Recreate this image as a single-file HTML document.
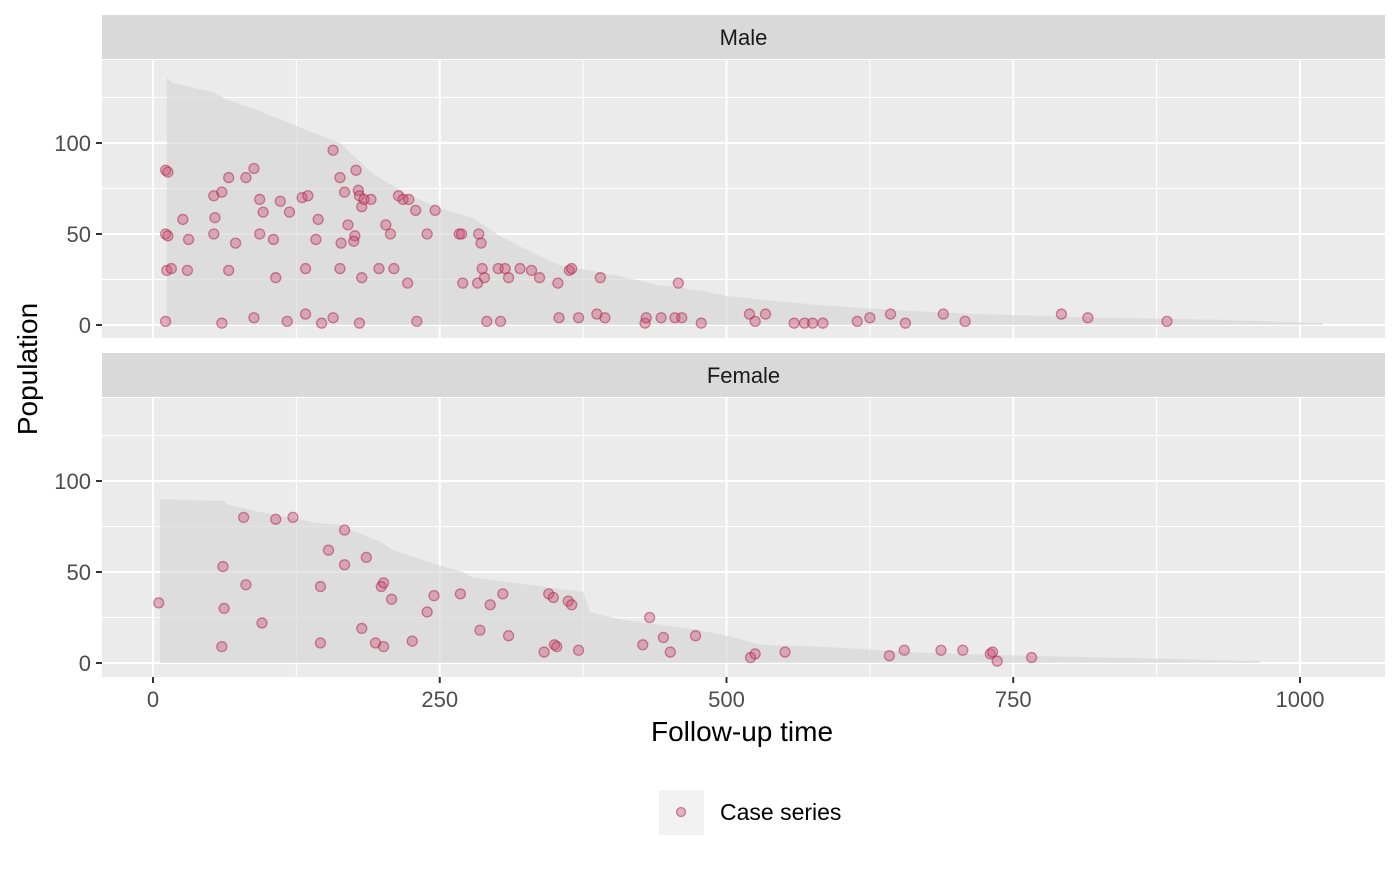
<!DOCTYPE html>
<html><head><meta charset="utf-8">
<style>
body{margin:0;background:#fff;}
svg text{font-family:"Liberation Sans",Arial,sans-serif;}
</style></head>
<body>
<svg id="chart" width="1400" height="865" xmlns="http://www.w3.org/2000/svg"></svg>
<script>
// ---- data ----
const xTicks = [0, 250, 500, 750, 1000];
const yTicks = [0, 50, 100];
const panelNames = ["Male", "Female"];
const maleAreaTimes = [12,17,52,64,91,122,163,192,221,250,279,302,330,354,380,406,440,476,500,529,580,651,720,825,920,1020];
const maleAreaPops  = [136,133,128,124,118,110,100,83,72,64,59,49,40,33,30,27,22,19,16,14,11,8,6,4,3,1];
const femaleAreaTimes = [6,61,65,93,143,163,174,200,209,248,270,279,375,381,407,477,500,530,580,610,660,700,760,830,900,965];
const femaleAreaPops  = [90,89,87,83,77,76,73,66,62,54,50,47,39,28,24,18,15,10,9,8,6,5,4,3,2,1];
const maleTimes = [11,13,11,13,12,16,11,26,31,30,53,60,66,54,53,66,72,60,81,88,93,96,93,105,107,111,119,88,117,130,135,133,133,144,142,147,157,163,167,164,170,163,157,177,179,180,182,184,190,176,175,182,180,197,203,207,210,214,218,223,229,239,222,230,246,267,269,270,284,286,283,287,289,291,301,307,303,310,320,330,337,353,363,365,354,371,390,387,394,429,430,443,455,461,458,478,520,525,534,559,568,575,584,614,625,643,656,689,708,792,815,884];
const malePops  = [85,84,50,49,30,31,2,58,47,30,71,73,81,59,50,30,45,1,81,86,69,62,50,47,26,68,62,4,2,70,71,31,6,58,47,1,96,81,73,45,55,31,4,85,74,71,65,69,69,49,46,26,1,31,55,50,31,71,69,69,63,50,23,2,63,50,50,23,50,45,23,31,26,2,31,31,2,26,31,30,26,23,30,31,4,4,26,6,4,1,4,4,4,4,23,1,6,2,6,1,1,1,1,2,4,6,1,6,2,6,4,2];
const femaleTimes = [5,79,107,122,61,81,62,95,60,153,167,167,186,146,199,201,208,182,194,201,226,239,245,146,268,285,294,305,310,345,349,350,352,362,365,341,371,427,433,445,451,473,521,525,551,642,655,687,706,730,732,736,766];
const femalePops  = [33,80,79,80,53,43,30,22,9,62,73,54,58,42,42,44,35,19,11,9,12,28,37,11,38,18,32,38,15,38,36,10,9,34,32,6,7,10,25,14,6,15,3,5,6,4,7,7,7,5,6,1,3];

const NS="http://www.w3.org/2000/svg";
const svg=document.getElementById('chart');
function mk(tag,attrs,parent){const e=document.createElementNS(NS,tag);for(const k in attrs)e.setAttribute(k,attrs[k]);(parent||svg).appendChild(e);return e;}

const PX0=102, PX1=1385;
const xScale=t=>153+t*1.147;
const panels=[
 {strip:[15,59], body:[60,338], zero:325, times:maleTimes, pops:malePops, at:maleAreaTimes, ap:maleAreaPops},
 {strip:[353,397], body:[398,677], zero:663, times:femaleTimes, pops:femalePops, at:femaleAreaTimes, ap:femaleAreaPops}
];
panels.forEach((p,i)=>{
  const yScale=v=>p.zero-v*1.82;
  const g=mk('g',{});
  
  
  const st=mk('rect',{x:PX0,y:p.strip[0],width:PX1-PX0,height:p.strip[1]-p.strip[0],fill:'#d9d9d9'},g);
  
  
  const stt=mk('text',{x:(PX0+PX1)/2,y:(p.strip[0]+p.strip[1])/2+8,'text-anchor':'middle','font-size':'22',fill:'#1a1a1a'},g);
  stt.textContent=panelNames[i];
  
  
  mk('rect',{x:PX0,y:p.body[0],width:PX1-PX0,height:p.body[1]-p.body[0],fill:'#ebebeb'},g);
  [25,75,125].forEach(v=>mk('line',{x1:PX0,x2:PX1,y1:yScale(v),y2:yScale(v),stroke:'#fff','stroke-width':1},g));
  [125,375,625,875].forEach(v=>mk('line',{x1:xScale(v),x2:xScale(v),y1:p.body[0],y2:p.body[1],stroke:'#fff','stroke-width':1},g));
  yTicks.forEach(v=>{
    mk('line',{x1:PX0,x2:PX1,y1:yScale(v),y2:yScale(v),stroke:'#fff','stroke-width':2},g);
    mk('line',{x1:96,x2:102,y1:yScale(v),y2:yScale(v),stroke:'#333','stroke-width':2},g);
    const t=mk('text',{x:91,y:yScale(v)+8,'text-anchor':'end','font-size':'22',fill:'#4d4d4d'},g);
    t.textContent=v;
    
    
  });
  xTicks.forEach(v=>mk('line',{x1:xScale(v),x2:xScale(v),y1:p.body[0],y2:p.body[1],stroke:'#fff','stroke-width':2},g));
  let d='M'+xScale(p.at[0])+','+p.zero;
  for(let k=0;k<p.at.length;k++){
    d+=' L'+xScale(p.at[k])+','+yScale(p.ap[k]);
  }
  d+=' L'+xScale(p.at[p.at.length-1])+','+p.zero+' Z';
  const ar=mk('path',{d:d,fill:'#d3d3d3','fill-opacity':0.6},g);
  
  
  p.times.forEach((t,k)=>{
    const c=mk('circle',{cx:xScale(t),cy:yScale(p.pops[k]),r:5,fill:'rgba(205,70,110,0.38)',stroke:'rgba(165,30,75,0.5)','stroke-width':1.3},g);
    
    
  });
});
xTicks.forEach(v=>{
  mk('line',{x1:xScale(v),x2:xScale(v),y1:677,y2:683,stroke:'#333','stroke-width':2});
  const t=mk('text',{x:xScale(v),y:707,'text-anchor':'middle','font-size':'22',fill:'#4d4d4d'});
  t.textContent=v;
  
  
});
const xt=mk('text',{x:742,y:741,'text-anchor':'middle','font-size':'28',fill:'#000'});
xt.textContent='Follow-up time';


const yt=mk('text',{x:37,y:369,'text-anchor':'middle','font-size':'28',fill:'#000',transform:'rotate(-90 37 369)'});
yt.textContent='Population';


const lg=mk('g',{});


mk('rect',{x:659,y:790,width:45,height:45,fill:'#f2f2f2'},lg);
mk('circle',{cx:681,cy:812,r:4.5,fill:'rgba(205,70,110,0.38)',stroke:'rgba(165,30,75,0.5)','stroke-width':1.3},lg);
const lt=mk('text',{x:720,y:820,'font-size':'23',fill:'#000'},lg);
lt.textContent='Case series';
</script>
</body></html>
